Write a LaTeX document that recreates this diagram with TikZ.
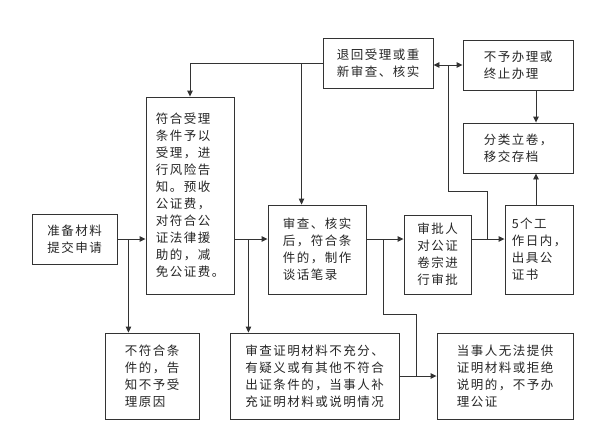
\documentclass[tikz,border=0pt]{standalone}
\usepackage{fontspec}
\setmainfont{Noto Sans CJK SC}[LetterSpace=12]
\usepackage{tikz}
\usetikzlibrary{arrows, arrows.meta, positioning, calc}

\begin{document}
\begin{tikzpicture}[x=1pt, y=-1pt]
\tikzstyle{box} = [rectangle, draw=black!80, line width=0.9pt, align=left, inner sep=0pt, font=\fontsize{12.5}{17}\selectfont, text=black!85]
\tikzstyle{line} = [line width=0.9pt, draw=black!80, >={Stealth[length=6pt, width=5.5pt, inset=0pt]}]

\useasboundingbox[fill=white] (0,0) rectangle (616,445);

% main row
\node (prep) [box, minimum width=85pt, minimum height=50pt] at (74.5,239) {准备材料\\提交申请};
\node (accept) [box, minimum width=88pt, minimum height=197pt] at (190,195.5) {符合受理\\条件予以\\受理，进\\行风险告\\知。预收\\公证费，\\对符合公\\证法律援\\助的，减\\免公证费。};
\node (review) [box, minimum width=98pt, minimum height=89pt] at (317,249.5) {审查、核实\\后，符合条\\件的，制作\\谈话笔录};
\node (approve) [box, minimum width=67pt, minimum height=79pt] at (437.5,254.5) {审批人\\对公证\\卷宗进\\行审批};
\node (issue) [box, minimum width=68pt, minimum height=89pt] at (539,249.5) {5个工\\作日内，\\出具公\\证书};

% top row
\node (back) [box, minimum width=110pt, minimum height=50pt] at (378,63) {退回受理或重\\新审查、核实};
\node (refuse) [box, minimum width=110pt, minimum height=50pt] at (518,65) {不予办理或\\终止办理};
\node (archive) [box, minimum width=110pt, minimum height=50pt] at (518,148) {分类立卷，\\移交存档};

% bottom row
\node (notacc) [box, minimum width=94pt, minimum height=86pt] at (152,376) {不符合条\\件的，告\\知不予受\\理原因};
\node (supp) [box, minimum width=169pt, minimum height=86pt] at (314.5,376) {审查证明材料不充分、\\有疑义或有其他不符合\\出证条件的，当事人补\\充证明材料或说明情况};
\node (refuse2) [box, minimum width=136pt, minimum height=86pt] at (505,376) {当事人无法提供\\证明材料或拒绝\\说明的，不予办\\理公证};

\coordinate (b1) at ($(prep.east)+(11,0)$);
\coordinate (b2) at ($(prep.east -| accept.east)+(14,0)$);
\coordinate (b3) at ($(prep.east -| review.east)+(17,0)$);
\coordinate (b4) at ($(prep.east -| approve.east)+(16,0)$);
\coordinate (j) at ($(supp.east)+(17,0)$);
\coordinate (hub) at (448,65);
\coordinate (b5) at ($(back.west)+(-21,0)$);

\draw [line, ->] (prep.east) -- (prep.east -| accept.west);
\draw [line, ->] (b1) -- (b1 |- notacc.north);
\draw [line, ->] (prep.east -| accept.east) -- (prep.east -| review.west);
\draw [line, ->] (b2) -- (b2 |- supp.north);
\draw [line, ->] (prep.east -| review.east) -- (prep.east -| approve.west);
\draw [line] (b3) -- ++(0,75) -| (j);
\draw [line, ->] (supp.east) -- (refuse2.west);
\draw [line, ->] (prep.east -| approve.east) -- (prep.east -| issue.west);
\draw [line] (b4) -- ++(0,-48) -| (hub);
\draw [line, ->] (hub) -- (hub -| back.east);
\draw [line, ->] (hub) -- (hub -| refuse.west);
\draw [line, ->] (back.west) -| (accept.north);
\draw [line, ->] (b5) -- (b5 |- review.north);
\draw [line, ->] ([xshift=18pt]refuse.south) -- ([xshift=18pt]archive.north);
\draw [line, ->] ([xshift=-3pt]issue.north) -- ([xshift=18pt]archive.south);

\end{tikzpicture}
\end{document}
